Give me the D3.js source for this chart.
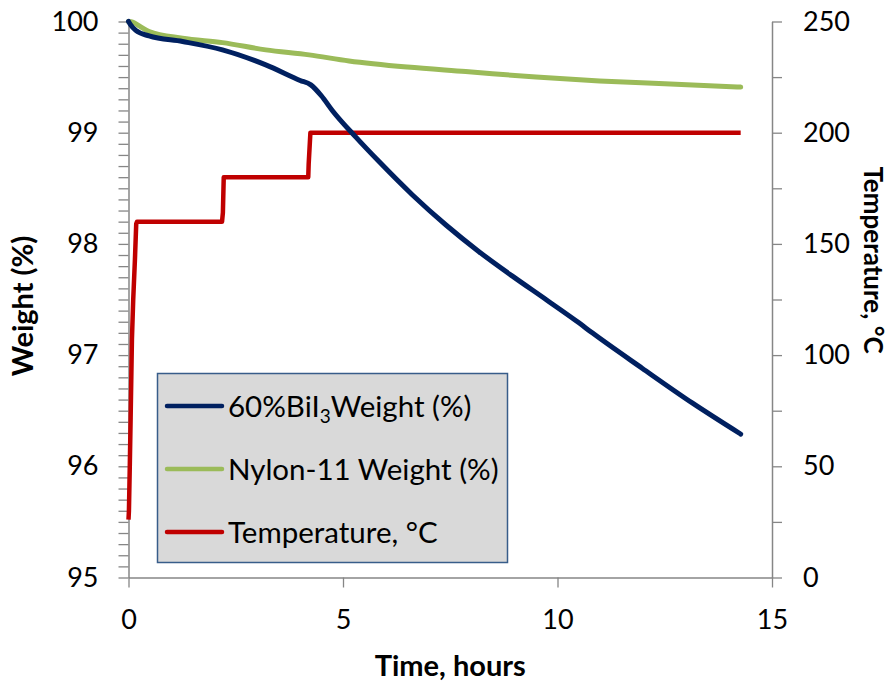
<!DOCTYPE html>
<html>
<head>
<meta charset="utf-8">
<script src="https://cdn.jsdelivr.net/npm/d3@7"></script>
<style>
  body { margin: 0; background: #ffffff; }
  svg { display: block; font-family: Lato, "Open Sans", sans-serif; }
</style>
</head>
<body>
<svg id="chart" width="893" height="685"></svg>
<script>
// ---- data ----
const blueTime   = [0, 0.05, 0.17, 0.48, 1.26, 2.19, 3.2, 4.0, 4.25, 4.5, 4.75, 5.3, 5.84, 6.62, 7.4, 8.17, 8.95, 9.73, 10.5, 10.81, 11.98, 13.14, 14.27];
const blueWeight = [100, 99.97, 99.92, 99.87, 99.82, 99.745, 99.61, 99.47, 99.43, 99.33, 99.2, 98.96, 98.74, 98.44, 98.17, 97.93, 97.71, 97.5, 97.29, 97.2, 96.88, 96.57, 96.29];

const greenTime   = [0, 0.1, 0.25, 0.48, 1.26, 2.19, 3.2, 4.21, 5.14, 6.5, 7.86, 9.5, 10.98, 12.5, 14.27];
const greenWeight = [100, 99.995, 99.96, 99.91, 99.85, 99.81, 99.745, 99.7, 99.645, 99.59, 99.55, 99.5, 99.465, 99.44, 99.41];

const tempTime  = [0, 0.01, 0.03, 0.05, 0.08, 0.11, 0.15, 0.18, 0.2, 2.18, 2.2, 2.22, 4.19, 4.2, 4.24, 14.27];
const tempValue = [26, 30, 50, 72, 107, 125, 143, 159, 160, 160, 164, 180, 180, 186, 200, 200];

const xTicks      = [0, 5, 10, 15];
const yLeftTicks  = [95, 96, 97, 98, 99, 100];
const yRightTicks = [0, 50, 100, 150, 200, 250];

const seriesNames = ["60%BiI", "Nylon-11 Weight (%)", "Temperature, \u00b0C"];
const colors = { blue: "#002060", green: "#9bbb59", red: "#c00000" };

// ---- layout ----
const svg = d3.select("#chart");
const L = 128.5, R = 772, T = 21.5, B = 577.5;
const axisColor = "#868686";

const x  = d3.scaleLinear().domain([0, 15]).range([L, R]);
const yL = d3.scaleLinear().domain([95, 100]).range([B, T]);
const yR = d3.scaleLinear().domain([0, 250]).range([B, T]);

function styleAxis(g) {
  g.select(".domain").attr("stroke", axisColor).attr("stroke-width", 1.5);
  g.selectAll(".tick line").attr("stroke", axisColor).attr("stroke-width", 1.3);
  g.selectAll(".tick text").attr("fill", "#000").style("font-size", "27px")
    .style("font-family", "Lato, 'Open Sans', sans-serif");
}

// left axis with minor ticks every 0.1
const leftMinor = d3.range(950, 1001, 1).map(v => v / 10);
const gL = svg.append("g").attr("transform", `translate(${L},0)`)
  .call(d3.axisLeft(yL).tickValues(leftMinor).tickSize(10).tickPadding(20).tickSizeOuter(0)
    .tickFormat(d => yLeftTicks.some(t => Math.abs(t - d) < 1e-6) ? d3.format("d")(Math.round(d)) : ""));
styleAxis(gL);

// right axis, ticks every 25
const rightMinor = d3.range(0, 251, 25);
const gR = svg.append("g").attr("transform", `translate(${R},0)`)
  .call(d3.axisRight(yR).tickValues(rightMinor).tickSize(10).tickPadding(21).tickSizeOuter(0)
    .tickFormat(d => yRightTicks.includes(d) ? d : ""));
styleAxis(gR);

// bottom axis
const gX = svg.append("g").attr("transform", `translate(0,${B})`)
  .call(d3.axisBottom(x).tickValues(xTicks).tickSize(10).tickPadding(22).tickSizeOuter(0));
styleAxis(gX);

// ---- lines ----
const lineL = d3.line().x(d => x(d[0])).y(d => yL(d[1]));
const lineR = d3.line().x(d => x(d[0])).y(d => yR(d[1]));

const greenData = greenTime.map((t, i) => [t, greenWeight[i]]);
const blueData  = blueTime.map((t, i) => [t, blueWeight[i]]);
const tempData  = tempTime.map((t, i) => [t, tempValue[i]]);

svg.append("path").datum(tempData).attr("d", lineR)
  .attr("fill", "none").attr("stroke", colors.red).attr("stroke-width", 4.5)
  .attr("stroke-linejoin", "round");
svg.append("path").datum(greenData).attr("d", lineL.curve(d3.curveMonotoneX))
  .attr("fill", "none").attr("stroke", colors.green).attr("stroke-width", 5)
  .attr("stroke-linejoin", "round").attr("stroke-linecap", "round");
svg.append("path").datum(blueData).attr("d", lineL.curve(d3.curveMonotoneX))
  .attr("fill", "none").attr("stroke", colors.blue).attr("stroke-width", 5)
  .attr("stroke-linejoin", "round").attr("stroke-linecap", "round");

// ---- axis titles ----
svg.append("text").attr("x", (L + R) / 2).attr("y", 676).attr("text-anchor", "middle")
  .style("font-size", "29px").style("font-weight", "bold").text("Time, hours");
svg.append("text").attr("transform", "translate(33,306) rotate(-90)").attr("text-anchor", "middle")
  .style("font-size", "29px").style("font-weight", "bold").text("Weight (%)");
svg.append("text").attr("transform", "translate(864,260) rotate(90)").attr("text-anchor", "middle")
  .style("font-size", "26px").style("font-weight", "bold").text("Temperature, \u00b0C");

// ---- legend ----
const lg = svg.append("g");
lg.append("rect").attr("x", 157.5).attr("y", 373.5).attr("width", 350).attr("height", 189)
  .attr("fill", "#d9d9d9").attr("stroke", "#385d8a").attr("stroke-width", 1.5);
const rows = [
  { c: colors.blue,  y: 406 },
  { c: colors.green, y: 469 },
  { c: colors.red,   y: 532 }
];
rows.forEach((r, i) => {
  lg.append("line").attr("x1", 167).attr("x2", 222).attr("y1", r.y).attr("y2", r.y)
    .attr("stroke", r.c).attr("stroke-width", 4.5).attr("stroke-linecap", "round");
  const t = lg.append("text").attr("x", 228).attr("y", r.y + 10.5).style("font-size", "29.5px");
  if (i === 0) {
    t.append("tspan").text(seriesNames[0]);
    t.append("tspan").attr("dy", 6).style("font-size", "19px").text("3");
    t.append("tspan").attr("dy", -6).text("Weight (%)");
  } else {
    t.text(seriesNames[i]);
  }
});
</script>
</body>
</html>
